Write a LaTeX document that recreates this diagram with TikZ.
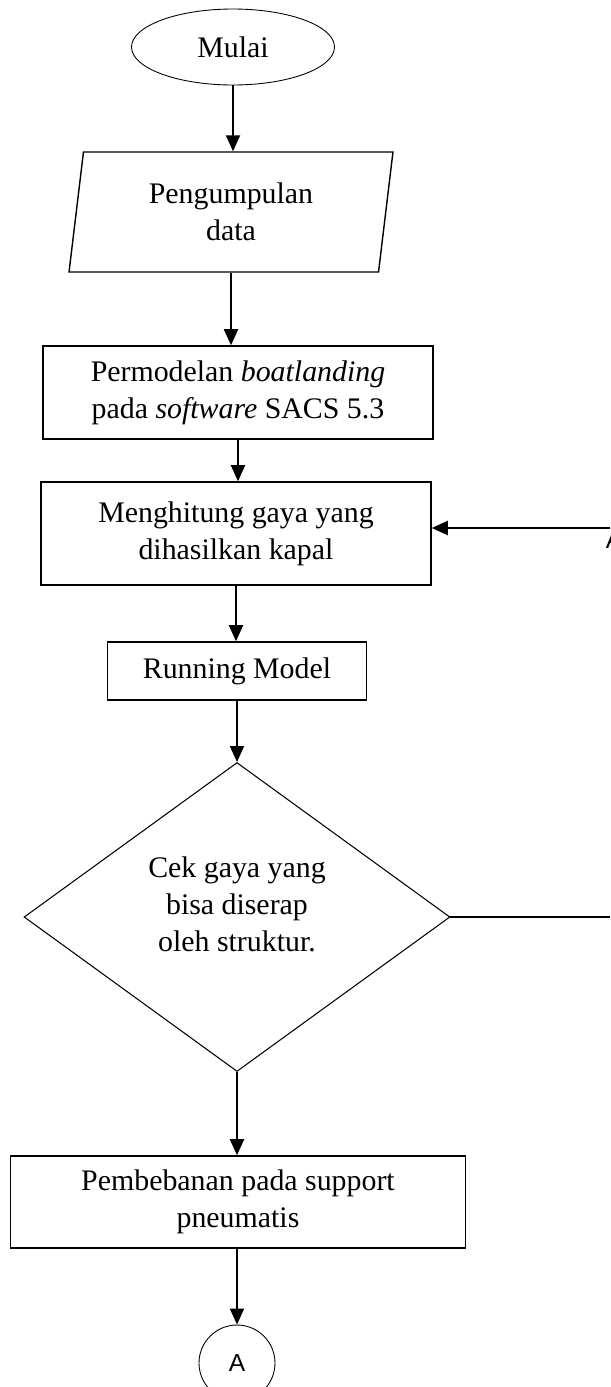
\documentclass[tikz,border=0pt]{standalone}
\usepackage{fontspec}
\setmainfont{Liberation Serif}
\setsansfont{Liberation Sans}
\usepackage{tikz}
\usetikzlibrary{positioning, arrows.meta, shapes.geometric}

\begin{document}
\begin{tikzpicture}[
        x=0.02cm, y=-0.02cm,
        % --- Styles for the nodes ---
        base/.style={
            font=\fontsize{17}{21}\selectfont, align=center, inner sep=0pt
        },
        terminal/.style={base, draw, ellipse, line width=0.5pt, minimum width=4.06cm, minimum height=1.52cm},
        input/.style={base, draw, trapezium, trapezium left angle=76, trapezium right angle=104,
            trapezium stretches body, line width=0.8pt, minimum width=6.48cm, minimum height=2.4cm},
        process/.style={base, draw, rectangle, line width=0.9pt},
        decision/.style={draw, diamond, line width=0.6pt, inner sep=0pt, minimum width=8.52cm, minimum height=6.18cm},
        connector/.style={draw, circle, line width=0.5pt, minimum size=1.52cm, inner sep=0pt,
            font=\sffamily\fontsize{14}{16}\selectfont},
        % --- Styles for the connectors ---
        arrow/.style={-{Triangle[length=0.32cm, width=0.28cm]}, line width=1.1pt},
        plainline/.style={line width=0.6pt}
    ]

    % --- Page frame ---
    \useasboundingbox (0,0) rectangle (610,1387);

    % --- Flow nodes ---
    \node[terminal] (mulai) at (233,47) {Mulai};
    \node[input] (kumpul) at (231,212) {Pengumpulan\\data};
    \node[process, minimum width=7.8cm, minimum height=1.86cm] (model) at (238,392.5)
        {Permodelan \textit{boatlanding}\\pada \textit{software} SACS 5.3};
    \node[process, minimum width=7.8cm, minimum height=2.06cm] (hitung) at (236,533.5)
        {Menghitung gaya yang\\dihasilkan kapal};
    \node[process, minimum width=5.18cm, minimum height=1.16cm] (running) at (237,671) {Running Model};
    \node[decision] (cek) at (237,917) {};
    \node[base] (cektext) at (237,904) {Cek gaya yang\\bisa diserap\\oleh struktur.};
    \node[process, minimum width=9.11cm, minimum height=1.84cm] (beban) at (238,1202)
        {Pembebanan pada support\\pneumatis};
    \node[connector] (konA) at (237,1363) {A};

    % --- Off-page connector, cut by the edge ---
    \node[font=\sffamily\fontsize{14}{16}\selectfont, inner sep=0pt] (lanjutA) at (614,540) {A};
    \coordinate (balik) at (610,528);
    \coordinate (keluar) at (610,917);

    % --- Arrows down the main column ---
    \draw[arrow] (mulai.south) -- (mulai.south |- kumpul.north);
    \draw[arrow] (kumpul.south) -- (kumpul.south |- model.north);
    \draw[arrow] (model.south) -- (model.south |- hitung.north);
    \draw[arrow] (hitung.south) -- (hitung.south |- running.north);
    \draw[arrow] (running.south) -- (running.south |- cek.north);
    \draw[arrow] (cek.south) -- (cek.south |- beban.north);
    \draw[arrow] (beban.south -| konA) -- (konA.north);

    % --- Loop back and exit ---
    \draw[arrow] (balik) -- (balik -| hitung.east);
    \draw[plainline] (cek.east) -- (keluar);

\end{tikzpicture}
\end{document}
